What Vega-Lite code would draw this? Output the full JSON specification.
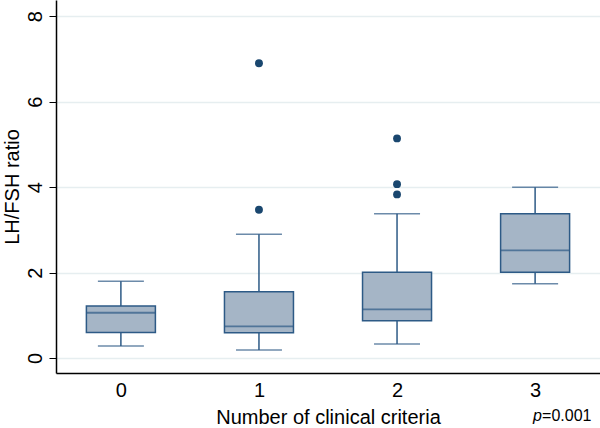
{
  "$schema": "https://vega.github.io/schema/vega-lite/v6.json",
  "width": 544,
  "height": 373,
  "autosize": "none",
  "padding": {"left": 56, "top": 0, "right": 0, "bottom": 55},
  "background": "white",
  "config": {
    "view": {"stroke": null},
    "font": "Liberation Sans",
    "axis": {"labelFont": "Liberation Sans", "titleFont": "Liberation Sans", "labelColor": "black", "titleColor": "black", "titleFontWeight": "normal", "domainColor": "black", "tickColor": "black", "domainWidth": 1.5}
  },
  "datasets": {
    "boxes": [
      {"g": "0", "lo": 0.28, "q1": 0.60, "med": 1.06, "q3": 1.22, "hi": 1.80},
      {"g": "1", "lo": 0.19, "q1": 0.59, "med": 0.74, "q3": 1.55, "hi": 2.90},
      {"g": "2", "lo": 0.33, "q1": 0.87, "med": 1.14, "q3": 2.01, "hi": 3.38},
      {"g": "3", "lo": 1.74, "q1": 2.01, "med": 2.52, "q3": 3.38, "hi": 4.00}
    ],
    "outliers": [
      {"g": "1", "v": 6.90},
      {"g": "1", "v": 3.47},
      {"g": "2", "v": 5.14},
      {"g": "2", "v": 4.07},
      {"g": "2", "v": 3.83}
    ],
    "note": [{"p": "p", "rest": "=0.001", "x": "3", "y": -1.35}]
  },
  "encoding": {
    "x": {
      "field": "g", "type": "ordinal",
      "scale": {"type": "point", "domain": ["0", "1", "2", "3"], "padding": 0.47},
      "axis": {"title": "Number of clinical criteria", "labelAngle": 0, "ticks": false, "labelFontSize": 20, "titleFontSize": 20, "labelPadding": 7, "titlePadding": 7, "grid": false}
    }
  },
  "layer": [
    {
      "data": {"name": "boxes"},
      "mark": {"type": "rule", "color": "#2d5a86", "strokeWidth": 1.5},
      "encoding": {
        "y": {
          "field": "lo", "type": "quantitative",
          "scale": {"domain": [-0.35, 8.38], "nice": false, "zero": false},
          "axis": {"title": "LH/FSH ratio", "values": [0, 2, 4, 6, 8], "labelAngle": -90, "labelAlign": "center", "labelBaseline": "bottom", "labelFontSize": 20, "titleFontSize": 20, "tickSize": 7, "labelPadding": 4, "titlePadding": 3, "grid": true, "gridColor": "#e6eef0", "gridWidth": 1.5}
        },
        "y2": {"field": "hi"}
      }
    },
    {
      "data": {"name": "boxes"},
      "mark": {"type": "tick", "color": "#2d5a86", "size": 46, "thickness": 1.5},
      "encoding": {"y": {"field": "lo", "type": "quantitative"}}
    },
    {
      "data": {"name": "boxes"},
      "mark": {"type": "tick", "color": "#2d5a86", "size": 46, "thickness": 1.5},
      "encoding": {"y": {"field": "hi", "type": "quantitative"}}
    },
    {
      "data": {"name": "boxes"},
      "mark": {"type": "bar", "size": 69, "fill": "#a5b5c6", "stroke": "#2d5a86", "strokeWidth": 1.5},
      "encoding": {"y": {"field": "q1", "type": "quantitative"}, "y2": {"field": "q3"}}
    },
    {
      "data": {"name": "boxes"},
      "mark": {"type": "tick", "color": "#2d5a86", "size": 69, "thickness": 1.8},
      "encoding": {"y": {"field": "med", "type": "quantitative"}}
    },
    {
      "data": {"name": "outliers"},
      "mark": {"type": "circle", "color": "#1a476f", "size": 62, "opacity": 1},
      "encoding": {"y": {"field": "v", "type": "quantitative"}}
    },
    {
      "data": {"name": "note"},
      "mark": {"type": "text", "fontSize": 16, "fontStyle": "italic", "align": "left", "baseline": "middle", "dx": -2},
      "encoding": {"x": {"field": "x", "type": "ordinal"}, "y": {"field": "y", "type": "quantitative"}, "text": {"field": "p"}}
    },
    {
      "data": {"name": "note"},
      "mark": {"type": "text", "fontSize": 16, "align": "left", "baseline": "middle", "dx": 7},
      "encoding": {"x": {"field": "x", "type": "ordinal"}, "y": {"field": "y", "type": "quantitative"}, "text": {"field": "rest"}}
    }
  ]
}
